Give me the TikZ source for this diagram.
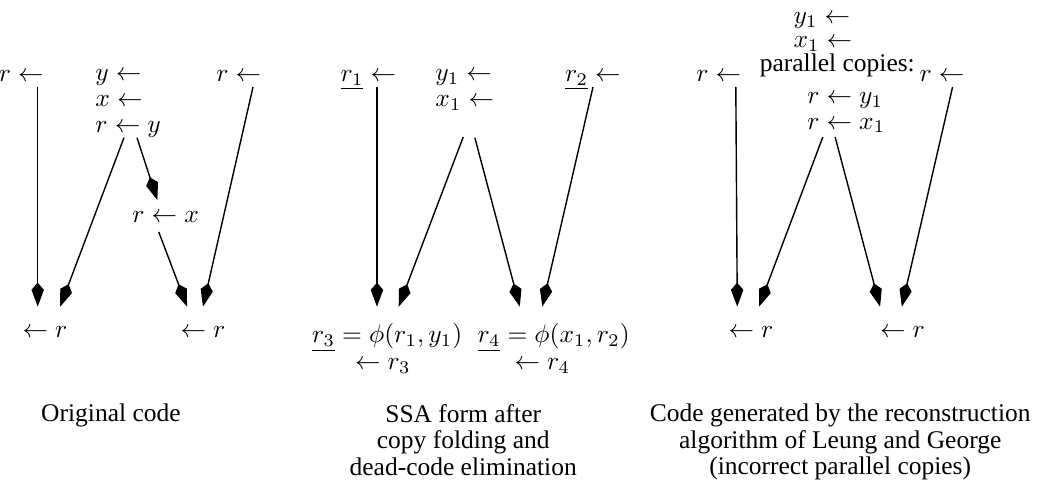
\documentclass[tikz,border=0pt]{standalone}
\usepackage{fontspec}
\setmainfont{Liberation Serif}
\usetikzlibrary{arrows.meta}

\begin{document}
\begin{tikzpicture}[
	flow/.style={line width=0.55pt, -{Kite[length=9.4pt, width=4.9pt, inset=2.8pt]}},
	code/.style={inner sep=0pt},
	caption/.style={inner sep=0pt, align=center, anchor=north, font=\fontsize{10}{10.4}\selectfont}]
	\useasboundingbox (0,0) rectangle (14.36,6.84);
	% original code
	\node[code, anchor=base east] (oA) at (0.61,5.72) {$r\leftarrow$};
	\node[code, anchor=base west] (oY) at (1.31,5.73) {$y\leftarrow$};
	\node[code, anchor=base west] (oX) at (1.31,5.37) {$x\leftarrow$};
	\node[code, anchor=base west] (oRY) at (1.31,5.01) {$r\leftarrow y$};
	\node[code, anchor=base east] (oB) at (3.61,5.72) {$r\leftarrow$};
	\node[code, anchor=base west] (oRX) at (1.82,3.77) {$r\leftarrow x$};
	\node[code, anchor=base] (oU) at (0.62,2.18) {$\leftarrow r$};
	\node[code, anchor=base] (oV) at (2.80,2.18) {$\leftarrow r$};
	\coordinate (o1s) at (0.52,5.64); \coordinate (o1e) at (0.52,2.61);
	\coordinate (o2s) at (1.71,4.94); \coordinate (o2e) at (0.83,2.61);
	\coordinate (o3s) at (1.89,4.94); \coordinate (o3e) at (2.17,4.08);
	\coordinate (o4s) at (2.19,3.64); \coordinate (o4e) at (2.58,2.61);
	\coordinate (o5s) at (3.49,5.64); \coordinate (o5e) at (2.80,2.61);
	\draw[flow] (o1s)--(o1e);
	\draw[flow] (o2s)--(o2e);
	\draw[flow] (o3s)--(o3e);
	\draw[flow] (o4s)--(o4e);
	\draw[flow] (o5s)--(o5e);
	% SSA form
	\node[code, anchor=base west] (sA) at (4.69,5.72) {$\underline{r_1}\leftarrow$};
	\node[code, anchor=base west] (sY) at (6.00,5.73) {$y_1\leftarrow$};
	\node[code, anchor=base west] (sX) at (6.00,5.37) {$x_1\leftarrow$};
	\node[code, anchor=base west] (sB) at (7.79,5.72) {$\underline{r_2}\leftarrow$};
	\node[code, anchor=base west] (sPhiA) at (4.30,2.11) {$\underline{r_3}=\phi(r_1,y_1)$};
	\node[code, anchor=base west] (sPhiB) at (6.58,2.11) {$\underline{r_4}=\phi(x_1,r_2)$};
	\node[code, anchor=base] (sU) at (5.28,1.74) {$\leftarrow r_3$};
	\node[code, anchor=base] (sV) at (7.48,1.74) {$\leftarrow r_4$};
	\coordinate (s1s) at (5.20,5.64); \coordinate (s1e) at (5.20,2.61);
	\coordinate (s2s) at (6.39,4.95); \coordinate (s2e) at (5.50,2.61);
	\coordinate (s3s) at (6.55,4.94); \coordinate (s3e) at (7.17,2.61);
	\coordinate (s4s) at (8.18,5.64); \coordinate (s4e) at (7.48,2.61);
	\draw[flow] (s1s)--(s1e);
	\draw[flow] (s2s)--(s2e);
	\draw[flow] (s3s)--(s3e);
	\draw[flow] (s4s)--(s4e);
	% Leung and George
	\node[code, anchor=base west] (lY) at (10.94,6.51) {$y_1\leftarrow$};
	\node[code, anchor=base west] (lX) at (10.94,6.18) {$x_1\leftarrow$};
	\node[code, anchor=base] (lPar) at (11.55,5.85) {parallel copies:};
	\node[code, anchor=base east] (lA) at (10.23,5.72) {$r\leftarrow$};
	\node[code, anchor=base east] (lB) at (13.31,5.72) {$r\leftarrow$};
	\node[code, anchor=base west] (lRY) at (11.13,5.41) {$r\leftarrow y_1$};
	\node[code, anchor=base west] (lRX) at (11.13,5.06) {$r\leftarrow x_1$};
	\node[code, anchor=base] (lU) at (10.36,2.18) {$\leftarrow r$};
	\node[code, anchor=base] (lV) at (12.45,2.18) {$\leftarrow r$};
	\coordinate (l1s) at (10.15,5.64); \coordinate (l1e) at (10.17,2.61);
	\coordinate (l2s) at (11.35,4.95); \coordinate (l2e) at (10.47,2.61);
	\coordinate (l3s) at (11.52,4.95); \coordinate (l3e) at (12.14,2.61);
	\coordinate (l4s) at (13.14,5.64); \coordinate (l4e) at (12.44,2.61);
	\draw[flow] (l1s)--(l1e);
	\draw[flow] (l2s)--(l2e);
	\draw[flow] (l3s)--(l3e);
	\draw[flow] (l4s)--(l4e);
	% captions
	\node[caption] (capO) at (1.53,1.27) {Original code};
	\node[caption] (capS) at (6.39,1.27) {SSA form after\\copy folding and\\dead-code elimination};
	\node[caption] (capL) at (11.59,1.27) {Code generated by the reconstruction\\algorithm of Leung and George\\(incorrect parallel copies)};
\end{tikzpicture}
\end{document}
